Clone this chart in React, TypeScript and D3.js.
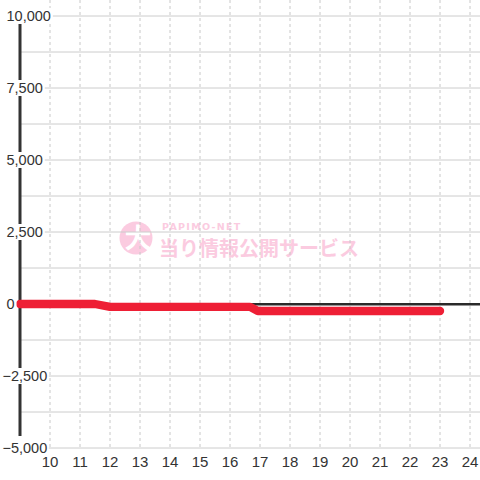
import React from "react";
import * as d3 from "d3";

const HOURS_TICKS = [10, 11, 12, 13, 14, 15, 16, 17, 18, 19, 20, 21, 22, 23, 24];
const Y_TICKS = [10000, 7500, 5000, 2500, 0, -2500, -5000];
const Y_GRID = [10000, 8750, 7500, 6250, 5000, 3750, 2500, 1250, 0, -1250, -2500, -3750, -5000];
const SERIES_HOURS = [9, 11.5, 12, 16.67, 16.93, 23];
const SERIES_VALUES = [0, 0, -100, -100, -245, -245];
const X_DOMAIN = [9, 24.333];
const Y_DOMAIN = [-5000, 10000];
const AXIS_BOTTOM_VALUE = -4580;

const W = 480;
const H = 480;

export default function App() {
  const x = d3.scaleLinear().domain(X_DOMAIN).range([20, 480]);
  const y = d3.scaleLinear().domain(Y_DOMAIN).range([448, 16]);
  const fmt = d3.format(",");
  const pts: [number, number][] = SERIES_HOURS.map((h, i) => [h, SERIES_VALUES[i]]);
  const line = d3
    .line<[number, number]>()
    .x((d) => x(d[0]))
    .y((d) => y(d[1]));
  const font = "'Liberation Sans', Arial, sans-serif";
  const fs = 14.5;
  const labelW = (s: string) => {
    let w = 0;
    for (const c of s) w += (c === "," ? 0.278 : c === "-" ? 0.333 : 0.556) * fs;
    return w;
  };
  return (
    <svg
      width={W}
      height={H}
      style={{ position: "absolute", left: 0, top: 0, background: "#fff" }}
    >
      <rect x={0} y={0} width={W} height={H} fill="#ffffff" />
      {/* watermark */}
      <g>
        <circle cx={136} cy={238} r={16.5} fill="#fbcbe0" />
        <text
          x={138}
          y={248}
          textAnchor="middle"
          fontFamily="'Noto Sans CJK JP'"
          fontWeight="bold"
          fontSize={27}
          fill="#ffffff"
        >
          大
        </text>
        <text
          x={162}
          y={230}
          fontFamily="'DejaVu Sans', sans-serif"
          fontWeight="bold"
          fontSize={9.5}
          letterSpacing={1.3}
          fill="#fbcbe0"
        >
          PAPIMO-NET
        </text>
        <text
          x={159}
          y={256}
          fontFamily="'Noto Sans CJK JP'"
          fontWeight="bold"
          fontSize={20}
          fill="#fbcbe0"
        >
          当り情報公開サービス
        </text>
      </g>
      {/* horizontal grid */}
      {Y_GRID.map((v) => (
        <line
          key={"hg" + v}
          x1={x(9)}
          x2={W}
          y1={y(v)}
          y2={y(v)}
          stroke="#cccccc"
          strokeWidth={1}
        />
      ))}
      {/* vertical grid */}
      {HOURS_TICKS.map((h) => (
        <line
          key={"vg" + h}
          x1={x(h)}
          x2={x(h)}
          y1={0}
          y2={y(-5000)}
          stroke="#c8c8c8"
          strokeWidth={1}
          strokeDasharray="3,3"
        />
      ))}
      {/* axes */}
      <line
        x1={x(9)}
        x2={x(9)}
        y1={y(10000)}
        y2={y(AXIS_BOTTOM_VALUE)}
        stroke="#333333"
        strokeWidth={3}
      />
      <line
        x1={x(9)}
        x2={W}
        y1={y(0) + 0.3}
        y2={y(0) + 0.3}
        stroke="#2a2a2a"
        strokeWidth={2.6}
      />
      {/* series */}
      <path
        d={line(pts) || ""}
        fill="none"
        stroke="#ee1f35"
        strokeWidth={8.4}
        strokeLinecap="round"
        strokeLinejoin="round"
      />
      {/* y labels */}
      {Y_TICKS.map((v) => {
        const s = fmt(v);
        const x0 = v < 0 ? 2.5 : 6.5;
        const w = labelW(s);
        return (
          <g key={"yl" + v}>
            <rect x={x0 - 1} y={y(v) - 8} width={w + 3} height={16} fill="#ffffff" />
            <text
              x={x0}
              y={y(v)}
              dy="0.36em"
              fontFamily={font}
              fontSize={fs}
              fill="#333333"
            >
              {s}
            </text>
          </g>
        );
      })}
      {/* x labels */}
      {HOURS_TICKS.map((h) => (
        <text
          key={"xl" + h}
          x={x(h)}
          y={461.5}
          dy="0.36em"
          textAnchor="middle"
          fontFamily={font}
          fontSize={15}
          fill="#333333"
        >
          {h}
        </text>
      ))}
    </svg>
  );
}
